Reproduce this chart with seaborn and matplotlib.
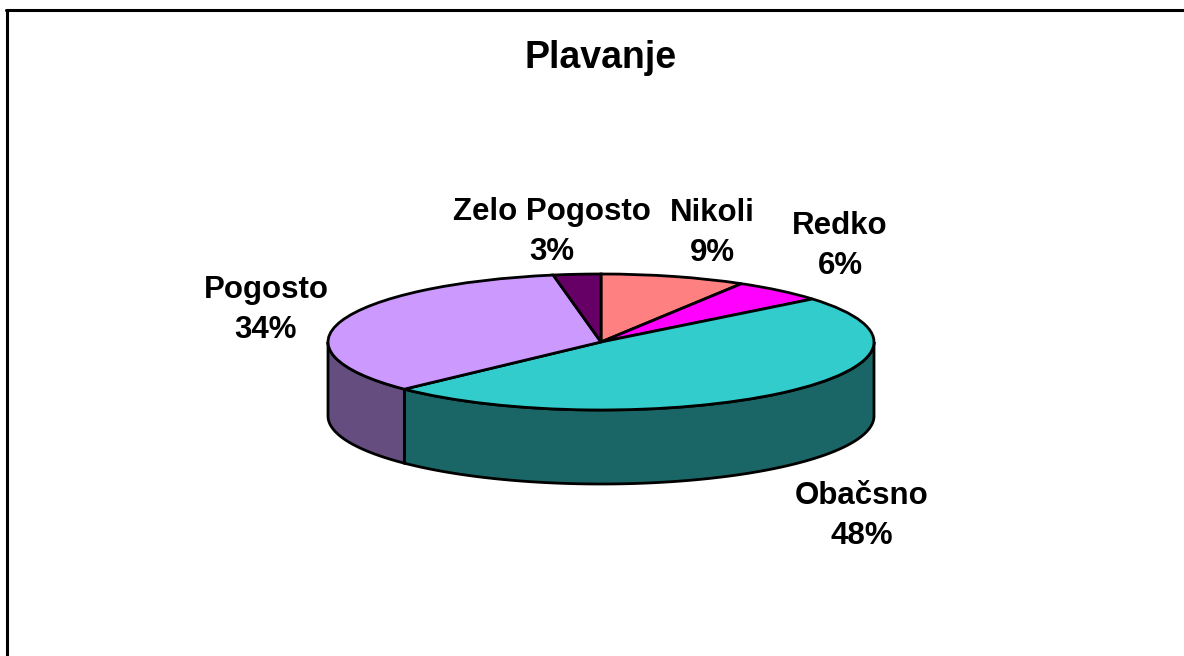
import numpy as np
import matplotlib

matplotlib.use("Agg")
from matplotlib import pyplot as plt
from matplotlib.colors import to_rgb
from matplotlib.lines import Line2D
import seaborn as sns

labels = ["Nikoli", "Redko", "Obačsno", "Pogosto", "Zelo Pogosto"]
shown_pct = [9, 6, 48, 34, 3]
# slice sizes, the labels are rounded
shares = [8.6, 5.5, 48.7, 34.4, 2.8]
colors = ["#FF8080", "#FF00FF", "#33CCCC", "#CC99FF", "#660066"]

W, H = 1184, 656
CX, CY, RX, RY, DEPTH = 601, 342, 273, 68, 74

sns.set_theme(style="white")
plt.rcParams["font.family"] = ["Liberation Sans", "DejaVu Sans"]

fig = plt.figure(figsize=(W / 100, H / 100), dpi=100, facecolor="white")
ax = fig.add_axes([0, 0, 1, 1])


def fx(px):
    return px / W


def fy(py):
    return 1 - py / H


# top face, flattened by letting the axes aspect go free
ax.pie(
    shares,
    colors=colors,
    startangle=90,
    counterclock=False,
    radius=1,
    wedgeprops={"edgecolor": "black", "linewidth": 2, "zorder": 3},
)
ax.set_aspect("auto")
ax.set_xlim(-CX / RX, (W - CX) / RX)
ax.set_ylim(-(H - CY) / RY, CY / RY)
ax.axis("off")

# side wall, only the part of each slice facing the viewer
depth = DEPTH / RY
edges = np.cumsum([0] + shares) * 3.6
for start, end, color in zip(edges[:-1], edges[1:], colors):
    lo, hi = max(start, 90), min(end, 270)
    if lo >= hi:
        continue
    t = np.radians(np.linspace(lo, hi, 120))
    xs = np.sin(t)
    ys = np.cos(t)
    ax.fill(
        np.r_[xs, xs[::-1]],
        np.r_[ys, ys[::-1] - depth],
        facecolor=tuple(c * 0.5 for c in to_rgb(color)),
        edgecolor="black",
        linewidth=2,
        zorder=2,
    )

fig.text(
    fx(601),
    fy(58),
    "Plavanje",
    ha="center",
    va="center",
    fontsize=27,
    fontweight="bold",
    color="black",
)

label_pos = [(712, 233), (840, 246), (862, 516), (266, 310), (552, 232)]
for name, pct, (px, py) in zip(labels, shown_pct, label_pos):
    fig.text(
        fx(px),
        fy(py),
        f"{name}\n{pct}%",
        ha="center",
        va="center",
        fontsize=22.5,
        fontweight="bold",
        color="black",
        linespacing=1.41,
    )

# chart frame, only the left and top edges are in the picture
frame = {"color": "black", "linewidth": 2.2, "transform": fig.transFigure}
fig.add_artist(Line2D([fx(7), fx(7)], [fy(10), 0], **frame))
fig.add_artist(Line2D([fx(6), 1], [fy(10), fy(10)], **frame))

fig.savefig("out.png", dpi=100)
